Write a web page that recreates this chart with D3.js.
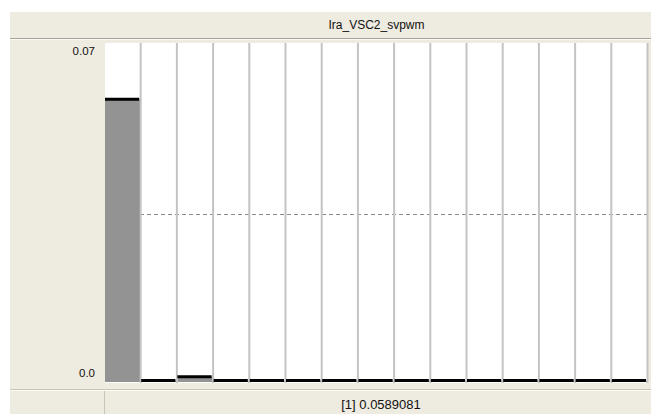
<!DOCTYPE html>
<html>
<head>
<meta charset="utf-8">
<script src="https://cdn.jsdelivr.net/npm/d3@7"></script>
<style>
  html, body { margin: 0; padding: 0; background: #fff; }
  svg { display: block; font-family: "Liberation Sans", Arial, sans-serif; }
</style>
</head>
<body>
<div id="chart"></div>
<script>
const WIDTH = 651;
const HEIGHT = 414;

// data
const title = 'Ira_VSC2_svpwm';
const harmonics = d3.range(1, 16);
const values = [0.0589081, 0.0003, 0.0011, 0.0003, 0.0003, 0.0003, 0.0003, 0.0003,
                0.0003, 0.0003, 0.0003, 0.0003, 0.0003, 0.0003, 0.0003];
const yTicks = [0, 0.07];
const tickLabels = ['0.0', '0.07'];
const refLevel = 0.035;
const statusText = '[1] 0.0589081';

const plot = { left: 105, right: 648, top: 43, bottom: 383 };

const svg = d3.select('#chart')
	.append('svg')
		.attr('width', WIDTH)
		.attr('height', HEIGHT);

// window background
svg.append('rect')
	.attr('x', 10).attr('y', 12)
	.attr('width', WIDTH - 10).attr('height', HEIGHT - 12)
	.attr('fill', '#eeebe0');

// title bar
svg.append('line')
	.attr('x1', 10).attr('x2', WIDTH)
	.attr('y1', 38.5).attr('y2', 38.5)
	.attr('stroke', '#a6a499');
svg.append('line')
	.attr('x1', 10).attr('x2', WIDTH)
	.attr('y1', 39.5).attr('y2', 39.5)
	.attr('stroke', '#fbfaf6');
svg.append('text')
	.attr('x', (plot.left + plot.right) / 2)
	.attr('y', 29)
	.attr('text-anchor', 'middle')
	.attr('font-size', 12)
	.attr('fill', '#111')
	.text(title);

const x = d3.scaleBand()
	.domain(harmonics)
	.range([plot.left, plot.right])
	.padding(0);

const y = d3.scaleLinear()
	.domain([0, 0.07])
	.range([382, 46]);

// white plotting area
svg.append('rect')
	.attr('x', plot.left).attr('y', plot.top)
	.attr('width', plot.right - plot.left).attr('height', plot.bottom - plot.top)
	.attr('fill', '#ffffff');

// dashed reference line
svg.append('line')
	.attr('x1', plot.left).attr('x2', plot.right)
	.attr('y1', Math.round(y(refLevel)) + 0.5).attr('y2', Math.round(y(refLevel)) + 0.5)
	.attr('stroke', '#8a8a8a')
	.attr('stroke-dasharray', '4,3');

// bars
svg.append('g')
	.selectAll('rect')
	.data(values)
	.join('rect')
		.attr('x', (d, i) => x(harmonics[i]))
		.attr('y', d => y(d))
		.attr('width', x.bandwidth() - 1)
		.attr('height', d => y(0) - y(d))
		.attr('fill', '#939393');

// column separators
svg.append('g')
	.selectAll('line')
	.data(harmonics.slice(1).concat([null]))
	.join('line')
		.attr('x1', d => (d === null ? plot.right : x(d)) - 0.5)
		.attr('x2', d => (d === null ? plot.right : x(d)) - 0.5)
		.attr('y1', plot.top)
		.attr('y2', plot.bottom)
		.attr('stroke', '#c4c4c4')
		.attr('stroke-width', 2);

// black caps on bars
svg.append('g')
	.selectAll('line')
	.data(values)
	.join('line')
		.attr('x1', (d, i) => x(harmonics[i]))
		.attr('x2', (d, i) => x(harmonics[i]) + x.bandwidth() - 2)
		.attr('y1', d => Math.min(y(d), 380.5))
		.attr('y2', d => Math.min(y(d), 380.5))
		.attr('stroke', '#000')
		.attr('stroke-width', 3);

// y tick labels
svg.append('g')
	.selectAll('text')
	.data(yTicks)
	.join('text')
		.attr('x', 95)
		.attr('y', (d, i) => i === 0 ? 377 : 55)
		.attr('text-anchor', 'end')
		.attr('font-size', 11.5)
		.attr('fill', '#111')
		.text((d, i) => tickLabels[i]);

// status bar
svg.append('line')
	.attr('x1', 10).attr('x2', WIDTH)
	.attr('y1', 389.5).attr('y2', 389.5)
	.attr('stroke', '#c9c6b8');
svg.append('line')
	.attr('x1', 10).attr('x2', WIDTH)
	.attr('y1', 390.5).attr('y2', 390.5)
	.attr('stroke', '#fbfaf6');
svg.append('line')
	.attr('x1', 104.5).attr('x2', 104.5)
	.attr('y1', 391).attr('y2', HEIGHT)
	.attr('stroke', '#c9c6b8');
svg.append('text')
	.attr('x', 381)
	.attr('y', 409)
	.attr('text-anchor', 'middle')
	.attr('font-size', 13)
	.attr('fill', '#111')
	.text(statusText);
</script>
</body>
</html>
